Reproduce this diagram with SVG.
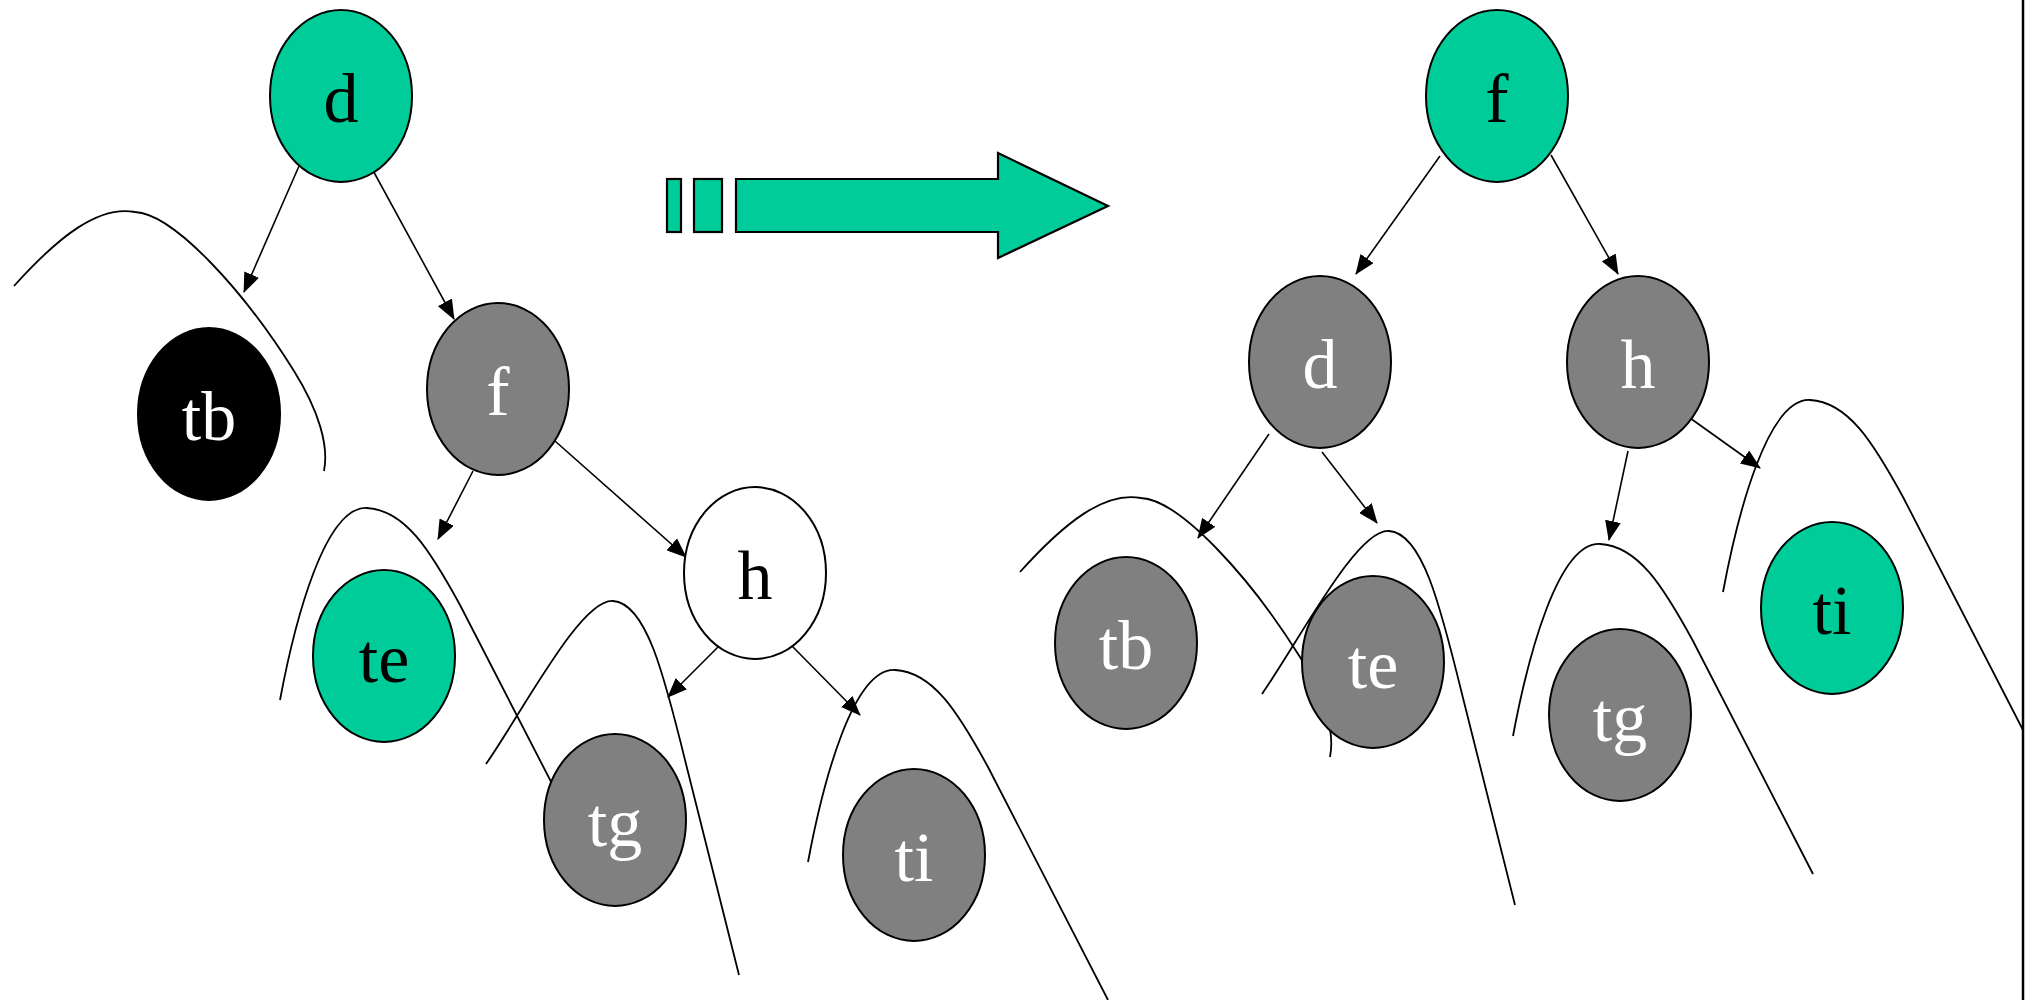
<svg xmlns="http://www.w3.org/2000/svg" xmlns:xlink="http://www.w3.org/1999/xlink" width="2038" height="1000" viewBox="0 0 2038 1000">
<style>
.n{stroke:#000;stroke-width:2}
.g{fill:#00CC99}
.k{fill:#808080}
.b{fill:#000}
.w{fill:#fff}
.t{font-family:"Liberation Serif","Times New Roman",serif;font-size:70px;text-anchor:middle}
.tw{fill:#fff}
.tk{fill:#000}
.e{stroke:#000;stroke-width:1.6;fill:none;marker-end:url(#ah)}
.c{stroke:#000;stroke-width:1.8;fill:none}
.a{fill:#00CC99;stroke:#000;stroke-width:2.2}
</style>
<defs>
<marker id="ah" markerUnits="userSpaceOnUse" markerWidth="20" markerHeight="16" viewBox="0 0 20 16" refX="19" refY="8" orient="auto">
<path d="M0,0 L20,8 L0,16 z" fill="#000"/>
</marker>
<path id="shA" d="M0,0 C45,-50 85,-81 121,-74 C160,-72 230,5 280,85 C305,125 315,160 310,185"/>
<path id="shB" d="M0,0 C40,-58 95,-165 127,-163 C160,-161 178,-90 200,0 L253,211"/>
<path id="shC" d="M0,0 C15,-80 45,-194 87,-192 C125,-190 150,-150 180,-95 L300,138"/>
</defs>
<rect width="2038" height="1000" fill="#fff"/>
<g id="subtrees" class="c">
<use xlink:href="#shA" x="14" y="286"/>
<use xlink:href="#shC" x="280" y="700"/>
<use xlink:href="#shB" x="486" y="764"/>
<use xlink:href="#shC" x="808" y="862"/>
<use xlink:href="#shA" x="1020" y="572"/>
<use xlink:href="#shB" x="1262" y="694"/>
<use xlink:href="#shC" x="1513" y="736"/>
<use xlink:href="#shC" x="1723" y="592"/>
</g>
<line x1="2023" y1="0" x2="2023" y2="1000" stroke="#000" stroke-width="2.5"/>
<g id="bigarrow">
<rect class="a" x="667" y="179" width="14" height="53"/>
<rect class="a" x="694" y="179" width="28" height="53"/>
<path class="a" d="M736,179 L998,179 L998,153 L1108,206 L998,258 L998,232 L736,232 z"/>
</g>
<g id="connectors">
<line class="e" x1="299" y1="166" x2="244" y2="292"/>
<line class="e" x1="370" y1="165" x2="454" y2="319"/>
<line class="e" x1="473" y1="471" x2="438" y2="539"/>
<line class="e" x1="555" y1="441" x2="686" y2="557"/>
<line class="e" x1="718" y1="647" x2="668" y2="697"/>
<line class="e" x1="792" y1="646" x2="860" y2="715"/>
<line class="e" x1="1440" y1="156" x2="1356" y2="274"/>
<line class="e" x1="1551" y1="155" x2="1618" y2="274"/>
<line class="e" x1="1269" y1="434" x2="1198" y2="538"/>
<line class="e" x1="1322" y1="452" x2="1377" y2="523"/>
<line class="e" x1="1628" y1="451" x2="1609" y2="540"/>
<line class="e" x1="1690" y1="418" x2="1760" y2="468"/>
</g>
<g id="L-d"><ellipse class="n g" cx="341" cy="96" rx="71" ry="86"/><text class="t tk" x="341" y="122">d</text></g>
<g id="L-tb"><ellipse class="n b" cx="209" cy="414" rx="71" ry="86"/><text class="t tw" x="209" y="440">tb</text></g>
<g id="L-f"><ellipse class="n k" cx="498" cy="389" rx="71" ry="86"/><text class="t tw" x="498" y="415">f</text></g>
<g id="L-te"><ellipse class="n g" cx="384" cy="656" rx="71" ry="86"/><text class="t tk" x="384" y="682">te</text></g>
<g id="L-h"><ellipse class="n w" cx="755" cy="573" rx="71" ry="86"/><text class="t tk" x="755" y="599">h</text></g>
<g id="L-tg"><ellipse class="n k" cx="615" cy="820" rx="71" ry="86"/><text class="t tw" x="615" y="846">tg</text></g>
<g id="L-ti"><ellipse class="n k" cx="914" cy="855" rx="71" ry="86"/><text class="t tw" x="914" y="881">ti</text></g>
<g id="R-f"><ellipse class="n g" cx="1497" cy="96" rx="71" ry="86"/><text class="t tk" x="1497" y="122">f</text></g>
<g id="R-d"><ellipse class="n k" cx="1320" cy="362" rx="71" ry="86"/><text class="t tw" x="1320" y="388">d</text></g>
<g id="R-h"><ellipse class="n k" cx="1638" cy="362" rx="71" ry="86"/><text class="t tw" x="1638" y="388">h</text></g>
<g id="R-tb"><ellipse class="n k" cx="1126" cy="643" rx="71" ry="86"/><text class="t tw" x="1126" y="669">tb</text></g>
<g id="R-te"><ellipse class="n k" cx="1373" cy="662" rx="71" ry="86"/><text class="t tw" x="1373" y="688">te</text></g>
<g id="R-tg"><ellipse class="n k" cx="1620" cy="715" rx="71" ry="86"/><text class="t tw" x="1620" y="741">tg</text></g>
<g id="R-ti"><ellipse class="n g" cx="1832" cy="608" rx="71" ry="86"/><text class="t tk" x="1832" y="634">ti</text></g>
</svg>
